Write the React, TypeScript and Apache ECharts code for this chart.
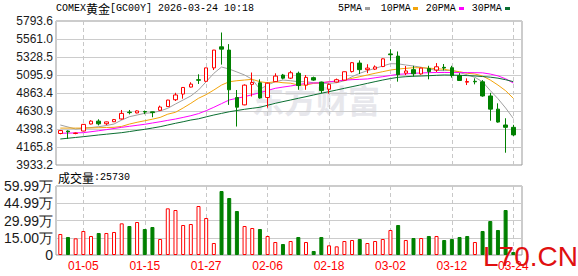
import React, { useEffect, useRef } from "react";
import * as echarts from "echarts";

const dates = [
  "12-31", "01-01", "01-02", "01-05", "01-06", "01-07", "01-08", "01-09", "01-12", "01-13",
  "01-14", "01-15", "01-16", "01-19", "01-20", "01-21", "01-22", "01-23", "01-26", "01-27",
  "01-28", "01-29", "01-30", "02-02", "02-03", "02-04", "02-05", "02-06", "02-09", "02-10",
  "02-11", "02-12", "02-13", "02-16", "02-17", "02-18", "02-19", "02-20", "02-23", "02-24",
  "02-25", "02-26", "02-27", "03-02", "03-03", "03-04", "03-05", "03-06", "03-09", "03-10",
  "03-11", "03-12", "03-13", "03-16", "03-17", "03-18", "03-19", "03-20", "03-23", "03-24",
];
const axisDates = ["01-05", "01-15", "01-27", "02-06", "02-18", "03-02", "03-12", "03-24"];

const opens = [
  4340, 4372, 4340, 4372, 4463, 4500, 4466, 4492, 4528, 4616,
  4606, 4624, 4620, 4640, 4688, 4776, 4850, 4940, 5035, 5015,
  5188, 5460, 5418, 4805, 4710, 4975, 4995, 4805, 5010, 5095,
  5055, 5118, 4965, 5062, 5005, 4912, 5005, 5030, 5140, 5250,
  5165, 5172, 5205, 5368, 5340, 5120, 5165, 5110, 5180, 5160,
  5195, 5190, 5088, 5003, 5015, 5008, 4825, 4655, 4450, 4420,
];
const closes = [
  4378, 4362, 4346, 4458, 4500, 4465, 4490, 4520, 4600, 4610,
  4632, 4618, 4610, 4682, 4772, 4838, 4935, 4978, 5028, 5188,
  5418, 5430, 4905, 4680, 4965, 5000, 4800, 4990, 5082, 5055,
  5125, 4960, 5065, 5030, 4895, 4975, 5035, 5138, 5255, 5165,
  5185, 5200, 5305, 5358, 5100, 5148, 5112, 5185, 5140, 5202,
  5186, 5088, 5025, 5012, 5008, 4825, 4655, 4488, 4420, 4322,
];
const lows = [
  4330, 4272, 4330, 4368, 4458, 4445, 4448, 4488, 4520, 4588,
  4600, 4590, 4550, 4635, 4683, 4760, 4790, 4935, 4980, 5010,
  5160, 5230, 4710, 4430, 4705, 4818, 4790, 4675, 5005, 5040,
  5045, 4905, 4905, 5020, 4860, 4855, 5000, 5025, 5128, 5108,
  5120, 5160, 5198, 5281, 5010, 5095, 5075, 5100, 5040, 5135,
  5155, 5062, 5020, 4966, 4975, 4815, 4505, 4480, 4092, 4308,
];
const highs = [
  4386, 4380, 4352, 4462, 4512, 4524, 4494, 4528, 4644, 4644,
  4640, 4636, 4622, 4700, 4775, 4866, 4940, 5002, 5105, 5190,
  5420, 5645, 5495, 4902, 4975, 5128, 5040, 5000, 5118, 5110,
  5150, 5140, 5095, 5075, 5010, 4985, 5050, 5140, 5262, 5285,
  5235, 5220, 5310, 5428, 5400, 5212, 5215, 5190, 5215, 5250,
  5238, 5215, 5120, 5053, 5053, 5030, 4866, 4730, 4537, 4452,
];

const ma5 = [
  4450, 4424, 4398, 4411, 4417, 4428, 4443, 4463, 4514, 4557,
  4579, 4601, 4609, 4631, 4666, 4721, 4773, 4825, 4902, 5009,
  5118, 5199, 5173, 5135, 5096, 5040, 4911, 4967, 5009, 5031,
  5022, 5009, 5009, 4996, 4988, 4988, 4996, 5022, 5074, 5118,
  5152, 5182, 5212, 5242, 5240, 5225, 5212, 5196, 5175, 5155,
  5152, 5158, 5128, 5098, 5066, 5008, 4895, 4790, 4670, 4535,
];
const ma10 = [
  4410, 4410, 4410, 4410, 4412, 4415, 4418, 4420, 4432, 4462,
  4485, 4505, 4525, 4548, 4590, 4614, 4670, 4730, 4795, 4843,
  4902, 4966, 5009, 5022, 5031, 5040, 5009, 4996, 5009, 4996,
  4990, 4966, 4966, 4988, 4996, 5009, 5018, 5031, 5053, 5074,
  5096, 5118, 5139, 5160, 5173, 5182, 5190, 5190, 5185, 5177,
  5170, 5152, 5139, 5118, 5109, 5083, 5031, 4966, 4893, 4795,
];
const ma20 = [
  4343, 4345, 4348, 4351, 4363, 4376, 4390, 4405, 4420, 4433,
  4446, 4459, 4476, 4492, 4510, 4527, 4548, 4570, 4597, 4635,
  4679, 4726, 4773, 4795, 4816, 4842, 4867, 4896, 4924, 4940,
  4954, 4971, 4988, 4992, 4996, 5007, 5018, 5028, 5036, 5040,
  5045, 5060, 5074, 5090, 5105, 5110, 5118, 5122, 5126, 5128,
  5128, 5128, 5127, 5127, 5126, 5124, 5108, 5085, 5047, 4992,
];
const ma30 = [
  4269, 4279, 4289, 4299, 4310, 4321, 4331, 4341, 4351, 4365,
  4380, 4394, 4411, 4428, 4450, 4472, 4492, 4514, 4530, 4555,
  4579, 4600, 4621, 4637, 4653, 4666, 4679, 4705, 4730, 4752,
  4773, 4795, 4816, 4838, 4860, 4881, 4902, 4924, 4945, 4966,
  4988, 5010, 5031, 5050, 5066, 5074, 5080, 5083, 5087, 5092,
  5096, 5094, 5092, 5088, 5084, 5076, 5068, 5055, 5035, 5010,
];

const volumes = [
  182600, 156500, 144900, 208700, 165200, 191300, 191300, 200000, 275300, 252100,
  286900, 226000, 243400, 139100, 405700, 391200, 260800, 269500, 426000, 321700,
  104300, 556400, 495600, 382500, 252100, 234700, 226000, 165200, 113000, 95600,
  121700, 156500, 113000, 34800, 156500, 84000, 75300, 121700, 130400, 139100,
  104300, 121700, 139100, 217400, 260800, 130400, 147800, 147800, 165200, 165200,
  130400, 139100, 156500, 165200, 113000, 208700, 295600, 217400, 391200, 25730,
];
// 1 = rising (red, hollow), 0 = falling (green, solid)
const volRise = [
  1, 0, 1, 1, 1, 0, 1, 1, 1, 0,
  1, 0, 0, 1, 1, 1, 1, 1, 1, 1,
  1, 0, 0, 0, 1, 1, 0, 1, 1, 0,
  1, 0, 1, 0, 0, 1, 1, 1, 1, 0,
  1, 1, 1, 1, 0, 1, 0, 1, 0, 1,
  0, 0, 0, 0, 1, 0, 0, 0, 0, 0,
];

const priceTicks = ["3933.2", "4165.8", "4398.3", "4630.9", "4863.4", "5095.9", "5328.5", "5561.0", "5793.6"];
const volTicks = ["0", "15.00万", "29.99万", "44.99万", "59.99万"];
const PRICE_MIN = 3933.2;
const PRICE_MAX = 5793.6;
const VOL_MAX = 599900;

const maNames = ["5PMA", "10PMA", "20PMA", "30PMA"];
const maColors = ["#a0a0a0", "#f2a40c", "#ff00ff", "#0a6e31"];

const RED = "#ff0000";
const GREEN = "#008000";

export default function App() {
  const ref = useRef<HTMLDivElement>(null);

  useEffect(() => {
    if (!ref.current) return;
    const chart = echarts.init(ref.current, undefined, { renderer: "svg" });
    const showIdx = (i: number) => axisDates.indexOf(dates[i]) >= 0;
    const splitDash = {
      show: true,
      interval: (i: number) => showIdx(i),
      lineStyle: { color: "#c8c8c8", type: [4, 3] as any, width: 1 },
    };
    const mas = [ma5, ma10, ma20, ma30];
    const legendX = [338, 380.7, 425.7, 471.7];
    const legendSq = [365, 413, 459, 505];

    const option: any = {
      animation: false,
      backgroundColor: "#ffffff",
      grid: [
        { left: 56, top: 21, width: 466, height: 144, show: true, borderColor: "#999", borderWidth: 1, backgroundColor: "transparent" },
        { left: 60.3, top: 21, width: 453, height: 144 },
        { left: 56, top: 186, width: 466, height: 69, show: true, borderColor: "#999", borderWidth: 1, backgroundColor: "transparent" },
        { left: 60.3, top: 186, width: 453, height: 69 },
      ],
      xAxis: [
        { gridIndex: 0, type: "value", min: 0, max: 1, show: false },
        {
          gridIndex: 1, type: "category", data: dates, boundaryGap: false,
          axisLine: { show: false }, axisTick: { show: false }, axisLabel: { show: false },
          splitLine: splitDash,
        },
        { gridIndex: 2, type: "value", min: 0, max: 1, show: false },
        {
          gridIndex: 3, type: "category", data: dates, boundaryGap: false,
          axisLine: { show: false }, axisTick: { show: false },
          axisLabel: {
            show: true, interval: (i: number) => showIdx(i), color: RED,
            fontSize: 12, fontFamily: "Liberation Sans", margin: 5,
          },
          splitLine: splitDash,
        },
      ],
      yAxis: [
        {
          gridIndex: 0, type: "value", min: 0, max: 8, interval: 1,
          axisLine: { show: false }, axisTick: { show: false },
          axisLabel: {
            formatter: (v: number) => priceTicks[Math.round(v)], color: "#1a1a1a",
            fontSize: 12, fontFamily: "Liberation Sans", margin: 3,
          },
          splitLine: { show: true, lineStyle: { color: "#cccccc", width: 1 } },
        },
        { gridIndex: 1, type: "value", min: PRICE_MIN, max: PRICE_MAX, show: false, splitLine: { show: false } },
        {
          gridIndex: 2, type: "value", min: 0, max: 4, interval: 1,
          axisLine: { show: false }, axisTick: { show: false },
          axisLabel: {
            formatter: (v: number) => volTicks[Math.round(v)], color: "#1a1a1a",
            fontSize: 14, fontFamily: "Liberation Sans", margin: 3,
          },
          splitLine: { show: true, lineStyle: { color: "#cccccc", width: 1 } },
        },
        { gridIndex: 3, type: "value", min: 0, max: VOL_MAX, show: false, splitLine: { show: false } },
      ],
      series: [
        {
          type: "candlestick", xAxisIndex: 1, yAxisIndex: 1, z: 5, clip: false,
          barWidth: 4,
          data: dates.map((_, i) => [opens[i], closes[i], lows[i], highs[i]]),
          itemStyle: { color: "#ffffff", color0: GREEN, borderColor: RED, borderColor0: GREEN, borderWidth: 1 },
        },
        ...mas.map((d, k) => ({
          type: "line", name: maNames[k], xAxisIndex: 1, yAxisIndex: 1, z: 3,
          data: d, symbol: "none", showSymbol: false, smooth: false,
          lineStyle: { color: maColors[k], width: 1 },
        })),
        {
          type: "bar", xAxisIndex: 3, yAxisIndex: 3, barWidth: 4, clip: false,
          data: volumes.map((v, i) => ({
            value: v,
            itemStyle: volRise[i]
              ? { color: "#ffffff", borderColor: RED, borderWidth: 1 }
              : { color: GREEN, borderColor: GREEN, borderWidth: 1 },
          })),
        },
      ],
      graphic: [
        {
          type: "text", x: 252, y: 99, z: 0, silent: true,
          style: {
            text: "东方财富", fill: "#e7e7ec", fontSize: 32, fontWeight: "bold",
            fontFamily: "Noto Sans CJK SC", verticalAlign: "middle",
          },
        },
        {
          type: "text", x: 56, y: 8, z: 10,
          style: {
            text: "{a|COMEX}{b|黄金}{a|[GC00Y] 2026-03-24 10:18}",
            verticalAlign: "middle",
            rich: {
              a: { fontFamily: "Liberation Mono", fontSize: 10, fill: "#000", color: "#000" },
              b: { fontFamily: "Noto Sans CJK SC", fontSize: 12, fill: "#000", color: "#000" },
            },
          },
        },
        ...maNames.map((n, k) => ({
          type: "text", x: legendX[k], y: 8, z: 10,
          style: { text: n, fill: "#000", fontFamily: "Liberation Mono", fontSize: 10, verticalAlign: "middle" },
        })),
        ...maColors.map((c, k) => ({
          type: "rect", x: legendSq[k], y: 7, z: 10,
          shape: { width: 5, height: 3 }, style: { fill: c },
        })),
        {
          type: "text", x: 58, y: 177, z: 10,
          style: {
            text: "{b|成交量}{a|:" + String(volumes[volumes.length - 1]) + "}",
            verticalAlign: "middle",
            rich: {
              a: { fontFamily: "Liberation Mono", fontSize: 10, fill: "#000", color: "#000" },
              b: { fontFamily: "Noto Sans CJK SC", fontSize: 12, fill: "#000", color: "#000" },
            },
          },
        },
        {
          type: "text", x: 483, y: 256, z: 20,
          style: {
            text: "L70.CN", fill: "#e01010", fontSize: 28, fontFamily: "Liberation Sans",
            verticalAlign: "middle",
          },
        },
      ],
    };
    chart.setOption(option);
    return () => chart.dispose();
  }, []);

  return (
    <div
      ref={ref}
      style={{ position: "absolute", left: 0, top: 0, width: 578, height: 276, background: "#fff" }}
    />
  );
}
